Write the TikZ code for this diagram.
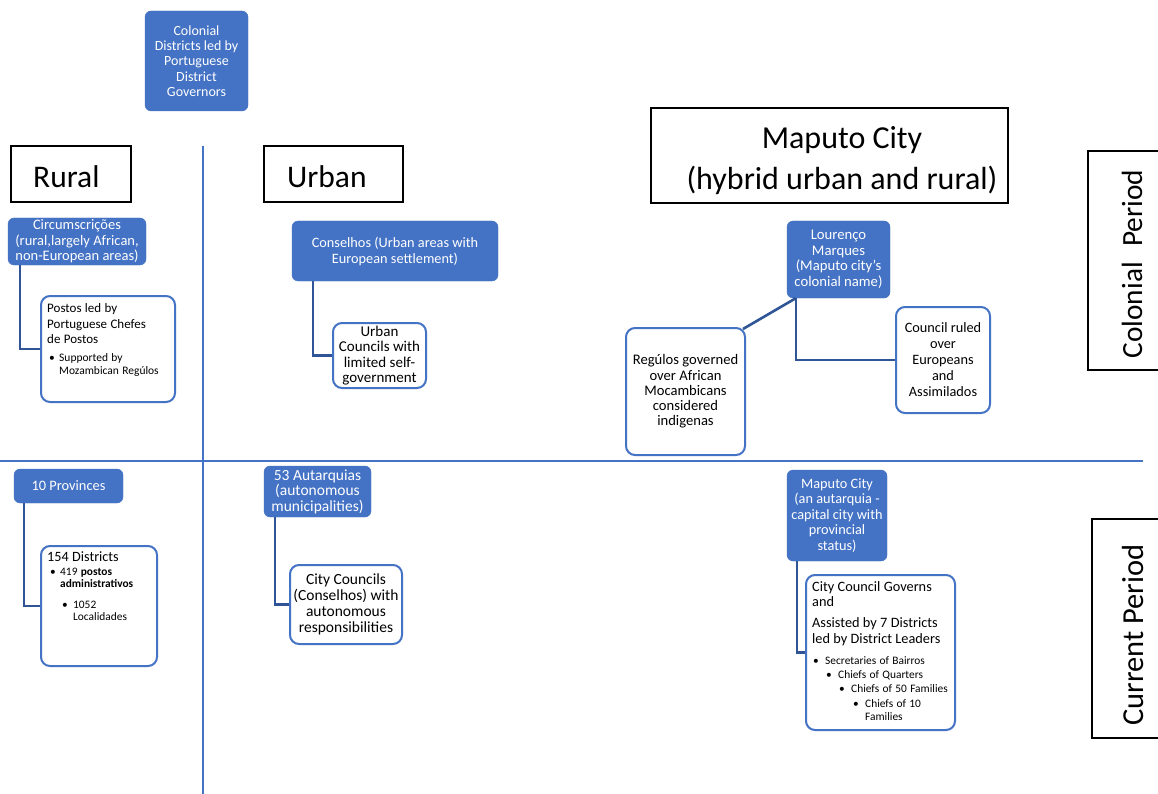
\documentclass[tikz,border=0pt]{standalone}
\usepackage{fontspec}
\setmainfont{Carlito}
\usetikzlibrary{calc}
\definecolor{sblue}{HTML}{4472C4}
\definecolor{cblue}{HTML}{2F5597}
\newcommand{\fs}[2]{\fontsize{#1}{#2}\selectfont}
\newcommand{\bul}[3]{\par\hangindent=\dimexpr#1+#2\relax\hangafter=1\noindent\hspace*{#1}\makebox[#2][l]{•}#3\par}
\begin{document}
\begin{tikzpicture}[x=1pt,y=-1pt,
  bluebox/.style={fill=sblue, draw=sblue, rounded corners=6pt, text=white, align=center, inner sep=1pt},
  whitebox/.style={fill=white, draw=sblue, line width=2pt, rounded corners=9pt, align=center, inner sep=1pt},
  blackbox/.style={draw=black, line width=1.3pt, fill=white, inner sep=0pt},
  txt/.style={inner sep=0pt, anchor=north west, align=left},
  conn/.style={draw=cblue, line width=2.6pt},
  gridline/.style={draw=sblue, line width=1.3pt},
  biglabel/.style={font=\fs{31.5}{36}, inner sep=0pt}
]
\clip (0,0) rectangle (1158,794);
\fill[white] (0,0) rectangle (1158,794);

% grid lines
\coordinate (vtop) at (203,146);
\coordinate (vbot) at (203,794);
\coordinate (hl) at (0,461);
\coordinate (hr) at (1143,461);
\draw[gridline] (vtop) -- (vbot);
\draw[gridline] (hl) -- (hr);

% header boxes
\node[bluebox, minimum width=103pt, minimum height=100pt, font=\fs{14}{15.2}] (cd) at (196.5,61) {Colonial\\Districts led by\\Portuguese\\District\\Governors};

\node[blackbox, minimum width=120pt, minimum height=56pt] (ruralbox) at (71,174) {};
\node[biglabel, anchor=base west] (rural) at (33,188) {Rural};
\node[blackbox, minimum width=139pt, minimum height=56pt] (urbanbox) at (333.5,174) {};
\node[biglabel, anchor=base west] (urban) at (287,188) {Urban};
\node[blackbox, minimum width=357pt, minimum height=95pt] (mapbox) at (829.5,155.5) {};
\node[biglabel, font=\fs{32}{36}, anchor=base] (map1) at (842,149) {Maputo City};
\node[biglabel, font=\fs{32}{36}, anchor=base] (map2) at (842,190) {(hybrid urban and rural)};

\node[blackbox, minimum width=90pt, minimum height=219pt] (colbox) at (1133,260.5) {};
\node[biglabel, font=\fs{29.3}{34}, rotate=90, anchor=base] (col) at (1142,264) {Colonial\hspace{0.3em} Period};
\node[blackbox, minimum width=86pt, minimum height=219pt] (curbox) at (1135,628.5) {};
\node[biglabel, font=\fs{30.5}{34}, rotate=90, anchor=base] (cur) at (1143,635) {Current Period};

% colonial rural
\node[bluebox, minimum width=138pt, minimum height=47pt, font=\fs{14.5}{15.5}] (circ) at (77,241.5) {Circumscrições\\(rural,largely African,\\non-European areas)};
\node[whitebox, minimum width=134pt, minimum height=106pt] (postos) at (108,349) {};
\node[txt, text width=125pt] (postostxt) at (47,303.5) {{\fs{13}{15.5}Postos led by\\Portuguese Chefes\\de Postos\par}\vspace{5pt}{\fs{11.5}{13}\bul{2pt}{10pt}{Supported by\newline Mozambican Regúlos}}};
\draw[conn] ($(circ.south west)+(12,0)$) |- (postos.west);

% colonial urban
\node[bluebox, minimum width=206pt, minimum height=60pt, font=\fs{14.3}{16}] (cons) at (395,251) {Conselhos (Urban areas with\\European settlement)};
\node[whitebox, minimum width=93pt, minimum height=65pt, font=\fs{15}{15.3}] (urbc) at (379.5,355.5) {Urban\\Councils with\\limited self-\\government};
\draw[conn] ($(cons.south west)+(21,0)$) |- (urbc.west);

% colonial maputo
\node[bluebox, minimum width=103pt, minimum height=77pt, font=\fs{14.7}{15.5}] (lm) at (838.5,259.5) {Lourenço\\Marques\\(Maputo city's\\colonial name)};
\node[whitebox, minimum width=119pt, minimum height=127pt, font=\fs{14.6}{15.2}] (reg) at (685.5,391.5) {Regúlos governed\\over African\\Mocambicans\\considered\\indigenas};
\node[whitebox, minimum width=94pt, minimum height=106pt, font=\fs{14.3}{16}] (council) at (943,360) {Council ruled\\over\\Europeans\\and\\Assimilados};
\coordinate (lmfoot) at ($(lm.south west)+(9,0)$);
\draw[conn] (lmfoot) |- (council.west);
\draw[conn] (lmfoot) -- ($(reg.north east)+(-3,2)$);

% current rural
\node[bluebox, minimum width=109pt, minimum height=34pt, font=\fs{14.4}{16}] (prov) at (68.5,486) {10 Provinces};
\node[whitebox, minimum width=116pt, minimum height=120pt] (dist) at (99,606) {};
\node[txt, text width=108pt] (disttxt) at (47,552) {{\fs{14.2}{16}154 Districts\par}\vspace{1pt}{\fs{11.4}{12.5}\bul{3pt}{10pt}{419 \textbf{postos}\newline\textbf{administrativos}}\vspace{8pt}\bul{15pt}{11pt}{1052\newline Localidades}}};
\draw[conn] ($(prov.south west)+(10,0)$) |- (dist.west);

% current urban
\node[bluebox, minimum width=107pt, minimum height=51pt, font=\fs{15.5}{15.5}] (aut) at (317.5,491.5) {53 Autarquias\\(autonomous\\municipalities)};
\node[whitebox, minimum width=112pt, minimum height=79pt, font=\fs{15.5}{15.8}] (cc) at (346,604.5) {City Councils\\(Conselhos) with\\autonomous\\responsibilities};
\draw[conn] ($(aut.south west)+(11,0)$) |- (cc.west);

% current maputo
\node[bluebox, minimum width=100pt, minimum height=91pt, font=\fs{14.3}{15.5}] (mcur) at (837,515.5) {Maputo City\\(an autarquia -\\capital city with\\provincial\\status)};
\node[whitebox, minimum width=149pt, minimum height=155pt] (ccg) at (880.5,652.5) {};
\node[txt, text width=142pt] (ccgtxt) at (812,581) {{\fs{14.3}{15}City Council Governs\\and\par}\vspace{6pt}{\fs{14.3}{15.5}Assisted by 7 Districts\\led by District Leaders\par}\vspace{8pt}{\fs{11.4}{13}\bul{1pt}{12pt}{Secretaries of Bairros}\vspace{1.3pt}\bul{14pt}{12pt}{Chiefs of Quarters}\vspace{1.3pt}\bul{27pt}{12pt}{Chiefs of 50 Families}\vspace{1.3pt}\bul{41pt}{12pt}{Chiefs of 10\newline Families}}};
\draw[conn] ($(mcur.south west)+(10,0)$) |- (ccg.west);
\end{tikzpicture}
\end{document}
